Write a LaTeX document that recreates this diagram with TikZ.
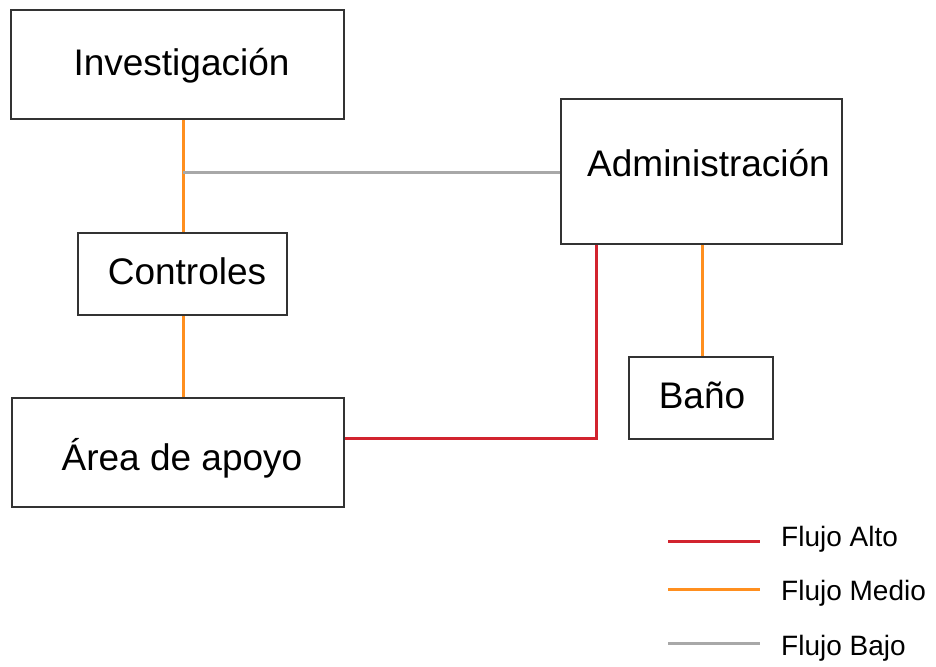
\documentclass[tikz,border=0pt]{standalone}
\usepackage{fontspec}
\setmainfont{Liberation Sans}
\begin{document}
\begin{tikzpicture}[x=1pt,y=-1pt,
  box/.style={draw=black!80,line width=1.6pt,fill=white,inner sep=0pt},
  boxtext/.style={font=\fontsize{37}{44}\selectfont,inner sep=0pt},
  alto/.style={draw={rgb,255:red,210;green,35;blue,46},line width=3pt},
  medio/.style={draw={rgb,255:red,255;green,143;blue,31},line width=3pt},
  bajo/.style={draw={rgb,255:red,168;green,168;blue,168},line width=3pt},
  leg/.style={anchor=base west,inner sep=0pt,font=\fontsize{28}{33}\selectfont}]
\useasboundingbox[fill=white] (0,0) rectangle (936,666);
% connectors first (behind boxes)
\coordinate (invS) at (183,119);
\coordinate (conN) at (183,233);
\coordinate (conS) at (183,315);
\coordinate (areaN) at (183,398);
\coordinate (junc) at (183,172);
\coordinate (admW) at (561,172);
\coordinate (redS) at (344,438);
\coordinate (redE) at (596,244);
\coordinate (admS) at (702,244);
\coordinate (banN) at (702,357);
\draw[medio] (invS) -- (conN);
\draw[medio] (conS) -- (areaN);
\draw[bajo] (junc) -- (admW);
\draw[alto] (redS) -| (redE);
\draw[medio] (admS) -- (banN);
% boxes
\node[box,minimum width=333pt,minimum height=109pt] (inv) at (177.5,64.5) {};
\node[boxtext] (invT) at (181.5,66) {Investigación};
\node[box,minimum width=281pt,minimum height=145pt] (adm) at (701.5,171.5) {};
\node[boxtext] (admT) at (708.5,163.5) {Administración};
\node[box,minimum width=209pt,minimum height=82pt] (con) at (182.5,274) {};
\node[boxtext] (conT) at (187,271) {Controles};
\node[box,minimum width=332pt,minimum height=109pt] (area) at (178,452.5) {};
\node[boxtext] (areaT) at (182,458) {Área de apoyo};
\node[box,minimum width=144pt,minimum height=82pt] (ban) at (701,398) {};
\node[boxtext] (banT) at (702,395) {Baño};
% legend
\coordinate (l1a) at (668,541); \coordinate (l1b) at (760,541);
\coordinate (l2a) at (668,589); \coordinate (l2b) at (760,589);
\coordinate (l3a) at (668,643); \coordinate (l3b) at (760,643);
\draw[alto] (l1a) -- (l1b);
\draw[medio] (l2a) -- (l2b);
\draw[bajo] (l3a) -- (l3b);
\node[leg] (t1) at (781,546) {Flujo Alto};
\node[leg] (t2) at (781,600) {Flujo Medio};
\node[leg] (t3) at (781,655) {Flujo Bajo};
\end{tikzpicture}
\end{document}
